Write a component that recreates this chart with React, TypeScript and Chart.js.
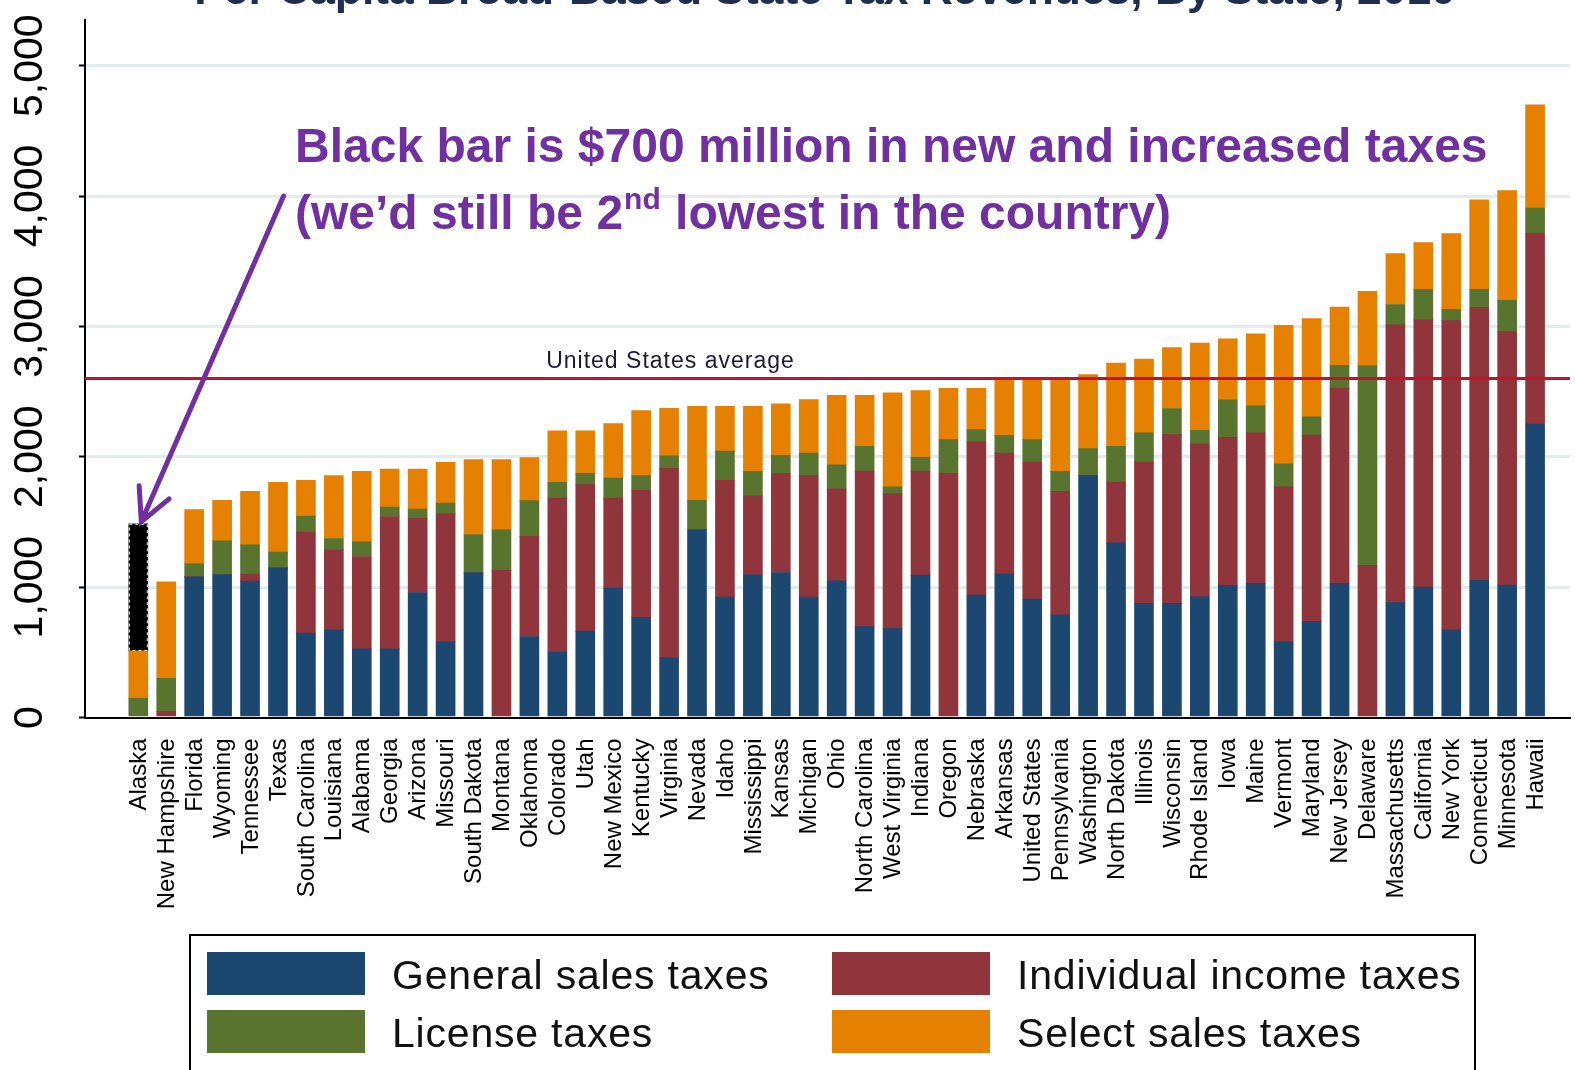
import React, { useEffect, useRef } from "react";
import { Chart, registerables } from "chart.js";

Chart.register(...registerables);

const states = [
  "Alaska", "New Hampshire", "Florida", "Wyoming", "Tennessee", "Texas", "South Carolina", "Louisiana",
  "Alabama", "Georgia", "Arizona", "Missouri", "South Dakota", "Montana", "Oklahoma", "Colorado", "Utah",
  "New Mexico", "Kentucky", "Virginia", "Nevada", "Idaho", "Mississippi", "Kansas", "Michigan", "Ohio",
  "North Carolina", "West Virginia", "Indiana", "Oregon", "Nebraska", "Arkansas", "United States",
  "Pennsylvania", "Washington", "North Dakota", "Illinois", "Wisconsin", "Rhode Island", "Iowa", "Maine",
  "Vermont", "Maryland", "New Jersey", "Delaware", "Massachusetts", "California", "New York",
  "Connecticut", "Minnesota", "Hawaii",
];

const generalSales = [
  0, 0, 1079, 1097, 1046, 1148, 647, 672, 526, 526, 959, 580, 1112, 0, 621, 506, 662, 992, 769, 457,
  1440, 923, 1094, 1112, 923, 1048, 697, 682, 1092, 0, 939, 1100, 908, 787, 1855, 1340, 876, 876, 925,
  1013, 1030, 580, 737, 1030, 0, 881, 1000, 673, 1053, 1016, 2250,
];

const individualIncome = [
  0, 45, 0, 0, 54, 0, 780, 614, 709, 1016, 568, 983, 0, 1128, 768, 1177, 1124, 691, 973, 1454,
  0, 896, 607, 758, 932, 705, 1194, 1035, 799, 1873, 1175, 929, 1052, 947, 0, 465, 1085, 1294, 1175,
  1136, 1153, 1190, 1429, 1497, 1168, 2131, 2050, 2371, 2094, 1944, 1465,
];

const licenseTaxes = [
  147, 256, 102, 259, 225, 121, 118, 87, 115, 72, 72, 82, 292, 312, 274, 121, 87, 154, 113, 97,
  225, 225, 187, 141, 174, 186, 189, 53, 104, 258, 94, 136, 171, 154, 207, 274, 222, 200, 102,
  288, 207, 176, 140, 174, 1531, 156, 234, 87, 137, 240, 192,
];

const selectSales = [
  364, 740, 413, 309, 409, 535, 274, 482, 538, 292, 307, 312, 574, 538, 330, 394, 325, 417, 499, 364,
  722, 343, 499, 394, 410, 533, 392, 720, 513, 394, 317, 440, 469, 717, 568, 640, 567, 468, 670,
  468, 552, 1063, 754, 447, 569, 391, 359, 580, 686, 842, 793,
];

// Proposed new and increased taxes (Alaska only)
const proposedNew = [975];

const yTickValues = [0, 1000, 2000, 3000, 4000, 5000];
const usAverage = 2600;

const titleText = "Per Capita Broad-Based State Tax Revenues, By State, 2010";
const noteLine1 = "Black bar is $700 million in new and increased taxes";
const noteLine2a = "(we\u2019d still be 2";
const noteLine2sup = "nd";
const noteLine2b = " lowest in the country)";
const avgLabel = "United States average";

const legendItems = [
  { label: "General sales taxes", color: "#1B4771" },
  { label: "Individual income taxes", color: "#90353C" },
  { label: "License taxes", color: "#58742E" },
  { label: "Select sales taxes", color: "#E58000" },
];

const FONT = '"Liberation Sans", Arial, sans-serif';

const toPoints = (arr: (number | null)[]) => arr.map((v, i) => ({ x: i, y: v }));

const overlayPlugin = {
  id: "overlay",
  afterDatasetsDraw(chart: any) {
    const { ctx, chartArea } = chart;
    const xs = chart.scales.x;
    const ys = chart.scales.y;
    ctx.save();

    // dashed outline of the black bar
    const meta = chart.getDatasetMeta(4);
    const el = meta && meta.data && meta.data[0];
    if (el) {
      const w = el.width;
      ctx.strokeStyle = "#ffffff";
      ctx.lineWidth = 1;
      ctx.setLineDash([3, 3]);
      ctx.strokeRect(el.x - w / 2 + 0.5, el.y + 0.5, w - 1, el.base - el.y - 1);
      ctx.setLineDash([]);
    }

    // US average line
    const ya = ys.getPixelForValue(usAverage);
    ctx.strokeStyle = "#C8102E";
    ctx.lineWidth = 3;
    ctx.beginPath();
    ctx.moveTo(chartArea.left, ya);
    ctx.lineTo(chartArea.right, ya);
    ctx.stroke();

    ctx.font = `23px ${FONT}`;
    (ctx as any).letterSpacing = "1px";
    ctx.fillStyle = "#1a1a33";
    ctx.textAlign = "center";
    ctx.textBaseline = "alphabetic";
    ctx.fillText(avgLabel, xs.getPixelForValue(19.05), ya - 11);
    (ctx as any).letterSpacing = "0px";

    ctx.restore();
  },
  afterDraw(chart: any) {
    const { ctx, chartArea } = chart;
    const xs = chart.scales.x;
    const ys = chart.scales.y;
    ctx.save();

    // Title (clipped at top)
    ctx.fillStyle = "#1F2E4F";
    let fs = 40;
    ctx.font = `bold ${fs}px ${FONT}`;
    const tw = ctx.measureText(titleText).width;
    fs = (fs * 1262) / tw;
    ctx.font = `bold ${fs}px ${FONT}`;
    ctx.textAlign = "center";
    ctx.textBaseline = "alphabetic";
    ctx.fillText(titleText, 825, 4);

    // Y tick labels (rotated)
    ctx.fillStyle = "#000";
    ctx.font = `41px ${FONT}`;
    ctx.textAlign = "center";
    ctx.textBaseline = "middle";
    yTickValues.forEach((v) => {
      const yp = ys.getPixelForValue(v);
      ctx.save();
      ctx.translate(31, yp);
      ctx.rotate(-Math.PI / 2);
      ctx.fillText(v.toLocaleString("en-US"), 0, 0);
      ctx.restore();
    });

    // X labels (rotated)
    ctx.font = `24px ${FONT}`;
    ctx.textAlign = "right";
    ctx.textBaseline = "middle";
    states.forEach((s, i) => {
      const xp = xs.getPixelForValue(i);
      ctx.save();
      ctx.translate(xp + 1, chartArea.bottom + 21);
      ctx.rotate(-Math.PI / 2);
      ctx.fillText(s, 0, 0);
      ctx.restore();
    });

    // Annotation text
    ctx.fillStyle = "#7030A0";
    ctx.font = `bold 48px ${FONT}`;
    ctx.textAlign = "left";
    ctx.textBaseline = "alphabetic";
    ctx.fillText(noteLine1, 295, 162);
    const x0 = 295;
    ctx.fillText(noteLine2a, x0, 229);
    const w1 = ctx.measureText(noteLine2a).width;
    ctx.font = `bold 30px ${FONT}`;
    ctx.fillText(noteLine2sup, x0 + w1 + 1, 209);
    const w2 = ctx.measureText(noteLine2sup).width;
    ctx.font = `bold 48px ${FONT}`;
    ctx.fillText(noteLine2b, x0 + w1 + w2 + 2, 229);

    // Arrow from note to Alaska's black bar
    const alaskaTop = generalSales[0] + individualIncome[0] + licenseTaxes[0] + selectSales[0] + proposedNew[0];
    const tipX = xs.getPixelForValue(0) + 3;
    const tipY = ys.getPixelForValue(alaskaTop) - 2;
    const tailX = xs.getPixelForValue(5.2);
    const tailY = ys.getPixelForValue(4000);
    ctx.strokeStyle = "#7030A0";
    ctx.lineWidth = 5;
    ctx.lineCap = "round";
    ctx.beginPath();
    ctx.moveTo(tailX, tailY);
    ctx.lineTo(tipX, tipY);
    const ang = Math.atan2(tailY - tipY, tailX - tipX);
    const headLen = 36;
    const spread = (27 * Math.PI) / 180;
    ctx.moveTo(tipX + headLen * Math.cos(ang - spread), tipY + headLen * Math.sin(ang - spread));
    ctx.lineTo(tipX, tipY);
    ctx.lineTo(tipX + headLen * Math.cos(ang + spread), tipY + headLen * Math.sin(ang + spread));
    ctx.stroke();

    // Legend box
    ctx.strokeStyle = "#000";
    ctx.lineWidth = 2;
    ctx.strokeRect(190, 935, 1285, 200);
    const cols = [207, 832];
    const rows = [952, 1010];
    ctx.font = `41px ${FONT}`;
    (ctx as any).letterSpacing = "0.8px";
    ctx.textAlign = "left";
    ctx.textBaseline = "middle";
    legendItems.forEach((it, i) => {
      const cx = cols[i % 2];
      const ry = rows[Math.floor(i / 2)];
      ctx.fillStyle = it.color;
      ctx.fillRect(cx, ry, 158, 43);
      ctx.fillStyle = "#111";
      ctx.fillText(it.label, cx + 185, ry + 26);
    });
    (ctx as any).letterSpacing = "0px";

    ctx.restore();
  },
};

export default function App() {
  const canvasRef = useRef<HTMLCanvasElement | null>(null);

  useEffect(() => {
    document.body.style.margin = "0";
    document.documentElement.style.overflow = "hidden";
    const canvas = canvasRef.current;
    if (!canvas) return;

    const ds = (label: string, data: (number | null)[], color: string) => ({
      label,
      data: toPoints(data),
      backgroundColor: color,
      borderWidth: 0,
      barThickness: 19,
      stack: "s",
    });

    const chart = new Chart(canvas, {
      type: "bar",
      data: {
        datasets: [
          ds(legendItems[0].label, generalSales, legendItems[0].color),
          ds(legendItems[1].label, individualIncome, legendItems[1].color),
          ds(legendItems[2].label, licenseTaxes, legendItems[2].color),
          ds(legendItems[3].label, selectSales, legendItems[3].color),
          ds("Proposed new taxes", proposedNew, "#000000"),
        ] as any,
      },
      options: {
        animation: false,
        responsive: false,
        devicePixelRatio: 1,
        layout: { padding: { top: 20, right: 5, left: 0, bottom: 0 } },
        plugins: {
          legend: { display: false },
          tooltip: { enabled: false },
          title: { display: false },
        },
        scales: {
          x: {
            type: "linear",
            stacked: true,
            offset: false,
            min: -1.908,
            max: 51.25,
            grid: { display: false, offset: false },
            border: { display: true, color: "#000", width: 2 },
            ticks: { display: false },
            afterFit: (scale: any) => {
              scale.height = 352.5;
            },
          },
          y: {
            stacked: true,
            min: 0,
            max: 5350,
            afterBuildTicks: (scale: any) => {
              scale.ticks = yTickValues.map((v) => ({ value: v }));
            },
            grid: {
              color: (c: any) => (c.tick && c.tick.value === 0 ? "rgba(0,0,0,0)" : "#E3EBEE"),
              lineWidth: 3,
              drawTicks: true,
              tickLength: 6,
              tickColor: "#000",
              tickWidth: 2,
            },
            border: { display: true, color: "#000", width: 2 },
            ticks: { display: false },
            afterFit: (scale: any) => {
              scale.width = 85;
            },
          },
        },
      } as any,
      plugins: [overlayPlugin],
    });

    return () => chart.destroy();
  }, []);

  return (
    <div style={{ position: "absolute", left: 0, top: 0, width: 1575, height: 1070, background: "#fff" }}>
      <canvas ref={canvasRef} width={1575} height={1070} style={{ display: "block" }} />
    </div>
  );
}
